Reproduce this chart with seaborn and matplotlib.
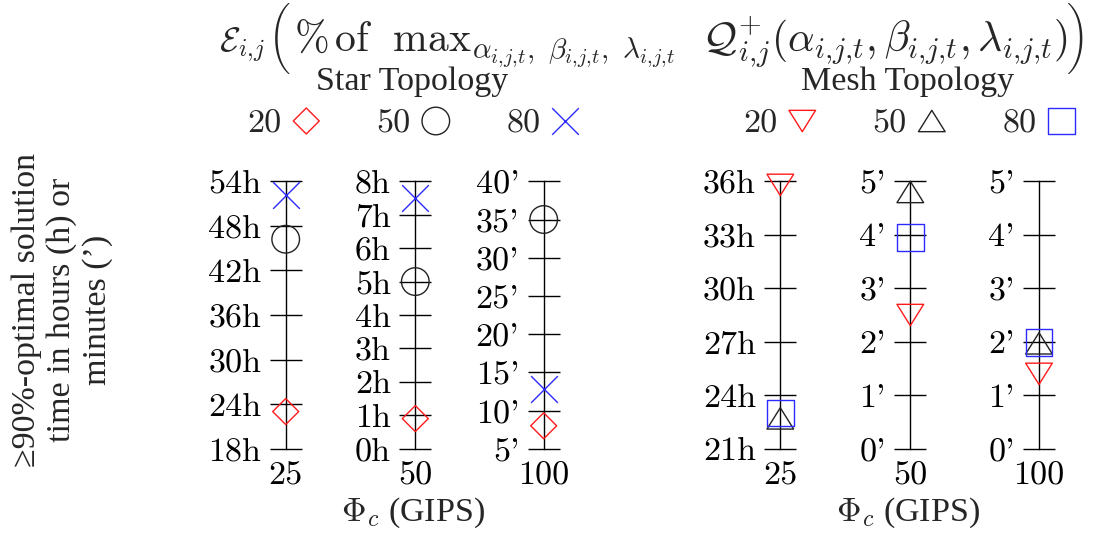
import matplotlib
matplotlib.use("Agg")
import matplotlib.pyplot as plt
import seaborn as sns
import pandas as pd
from matplotlib.path import Path

sns.set_theme(style="white")
plt.rcParams["font.family"] = ["Liberation Serif", "DejaVu Serif"]
plt.rcParams["mathtext.fontset"] = "cm"

# ---- data -------------------------------------------------------------
gips_labels = ["25", "50", "100"]
load_labels = ["20", "50", "80"]

# Star topology: time to reach >=90%-optimal solution (per load level 20/50/80)
star_25 = [23.0, 46.2, 52.1]     # hours
star_50 = [0.9, 5.0, 7.5]        # hours
star_100 = [8.0, 35.0, 12.8]     # minutes

# Mesh topology
mesh_25 = [35.8, 22.7, 23.0]     # hours
mesh_50 = [2.5, 4.8, 3.95]       # minutes
mesh_100 = [1.4, 1.97, 1.98]     # minutes

star_ticks = [list(range(18, 55, 6)), list(range(0, 9)), list(range(5, 41, 5))]
star_units = ["h", "h", "'"]
mesh_ticks = [list(range(21, 37, 3)), list(range(0, 6)), list(range(0, 6))]
mesh_units = ["h", "'", "'"]

# ---- styling ----------------------------------------------------------
W, H = 1104, 534
FS = 24.5
TFS = 30
tri_down = Path([(0, -0.8), (-1, 0.8), (1, 0.8), (0, -0.8)],
                [Path.MOVETO, Path.LINETO, Path.LINETO, Path.CLOSEPOLY])
tri_up = Path([(0, 0.8), (-1, -0.8), (1, -0.8), (0, 0.8)],
              [Path.MOVETO, Path.LINETO, Path.LINETO, Path.CLOSEPOLY])

RED, BLACK, BLUE = "#ff1a1a", "#222222", "#2b2bff"
star_markers = [("D", RED, 175), ("o", BLACK, 395), ("x", BLUE, 369)]
mesh_markers = [(tri_down, RED, 369), (tri_up, BLACK, 369), ("s", BLUE, 369)]

fig = plt.figure(figsize=(W / 100, H / 100), dpi=100)

ax_bottom = (H - 448.7) / H
ax_height = 267.4 / H
ax_w = 70


def fx(px):
    return px / W


def fy(py):
    return 1 - py / H


def make_panel(xc, values, ticks, unit, gips, markers):
    ax = fig.add_axes([fx(xc - ax_w / 2), ax_bottom, ax_w / W, ax_height])
    df = pd.DataFrame({"x": [0.0] * len(values), "y": values, "load": load_labels})
    for i, (m, c, s) in enumerate(markers):
        row = df.iloc[[i]]
        if m == "x":
            sns.scatterplot(data=row, x="x", y="y", ax=ax, marker=m, color=c,
                            s=s, linewidth=1.0, clip_on=False, zorder=3,
                            label=row["load"].iloc[0], legend=False)
        else:
            sns.scatterplot(data=row, x="x", y="y", ax=ax, marker=m,
                            facecolor="none", edgecolor=c, s=s, linewidth=1.0,
                            clip_on=False, zorder=3,
                            label=row["load"].iloc[0], legend=False)
    ax.set_xlim(-1, 1)
    ax.set_ylim(ticks[0], ticks[-1])
    ax.set_facecolor("none")
    for side in ["top", "right", "bottom"]:
        ax.spines[side].set_visible(False)
    ax.spines["left"].set_position(("axes", 0.5))
    ax.spines["left"].set_color("black")
    ax.spines["left"].set_linewidth(1.0)
    ax.set_yticks(ticks, labels=[f"{t}{unit}" for t in ticks])
    ax.set_xticks([0], labels=[gips])
    ax.tick_params(axis="y", left=True, direction="inout", length=23.5,
                   width=1.0, color="black", pad=5.8, labelsize=FS,
                   labelfontfamily="cmr10", labelcolor="black")
    ax.tick_params(axis="x", bottom=True, length=0, pad=9, labelsize=FS,
                   labelfontfamily="cmr10", labelcolor="black")
    ax.set_xlabel("")
    ax.set_ylabel("")
    return ax


star_x = [285.7, 415.3, 543.7]
mesh_x = [780.3, 910.3, 1039.0]
star_vals = [star_25, star_50, star_100]
mesh_vals = [mesh_25, mesh_50, mesh_100]

star_axes = [make_panel(x, v, t, u, g, star_markers)
             for x, v, t, u, g in zip(star_x, star_vals, star_ticks, star_units, gips_labels)]
mesh_axes = [make_panel(x, v, t, u, g, mesh_markers)
             for x, v, t, u, g in zip(mesh_x, mesh_vals, mesh_ticks, mesh_units, gips_labels)]

# legends (label before marker)
for axes, xc in [(star_axes, 413), (mesh_axes, 909)]:
    handles, labels = axes[0].get_legend_handles_labels()
    fig.legend(handles, labels, loc="center", bbox_to_anchor=(fx(xc), fy(124)),
               ncol=3, markerfirst=False, frameon=False, scatterpoints=1,
               scatteryoffsets=[0.5], handlelength=0.8, handletextpad=0.33,
               columnspacing=1.67, prop={"family": "cmr10", "size": FS},
               borderpad=0, borderaxespad=0)

# title: E_{i,j} ( ... ) with tall outer delimiters from the cmex10 font
title_body = (r"$\%\,\mathrm{of}\ \ "
              r"\mathrm{max}_{\alpha_{i{,}j{,}t},\ \beta_{i{,}j{,}t},\ \lambda_{i{,}j{,}t}}\ \ "
              r"\mathcal{Q}^{+}_{i{,}j}(\alpha_{i{,}j{,}t},\beta_{i{,}j{,}t},\lambda_{i{,}j{,}t})$")
fig.text(fx(265), fy(51), r"$\mathcal{E}_{i{,}j}$", ha="right", va="baseline",
         fontsize=24.5)
body = fig.text(fx(294), fy(51), title_body, ha="left", va="baseline", fontsize=TFS)
BIG_LPAREN, BIG_RPAREN = "\u00b5", "\u00b6"
fig.text(fx(280), fy(38), BIG_LPAREN, ha="center", va="center", fontsize=21,
         family="cmex10")
renderer = fig.canvas.get_renderer()
bb = body.get_window_extent(renderer)
fig.text((bb.x1 + 10) / W, fy(38), BIG_RPAREN, ha="center", va="center",
         fontsize=21, family="cmex10")

fig.text(fx(412.5), fy(82), "Star Topology", ha="center", va="center", fontsize=FS)
fig.text(fx(907.5), fy(82), "Mesh Topology", ha="center", va="center", fontsize=FS)

fig.text(fx(412.5), fy(513), r"$\Phi_c$ (GIPS)", ha="center", va="center", fontsize=FS)
fig.text(fx(907.5), fy(513), r"$\Phi_c$ (GIPS)", ha="center", va="center", fontsize=FS)

fig.text(fx(62), fy(310),
         "\u226590%-optimal solution\ntime in hours (h) or\nminutes (\u2019)",
         rotation=90, ha="center", va="center", multialignment="center",
         fontsize=FS, linespacing=1.2)

fig.savefig("out.png", dpi=100, facecolor="white")
